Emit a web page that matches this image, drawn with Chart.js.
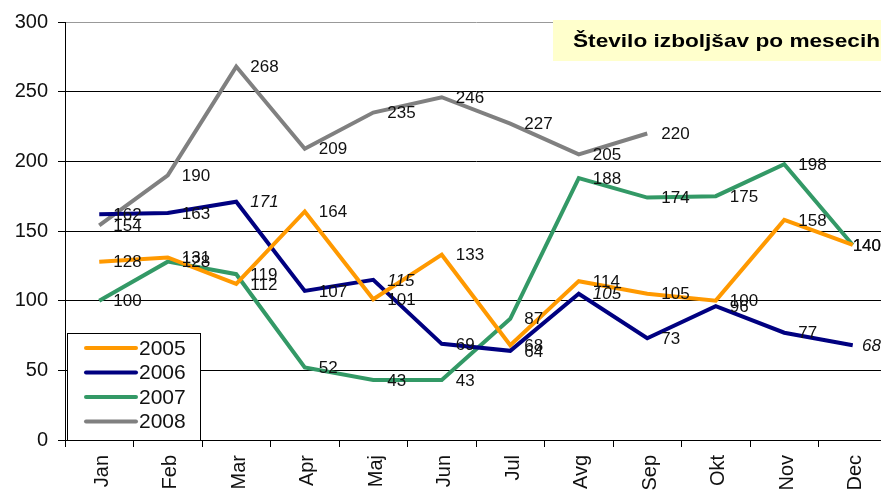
<!DOCTYPE html>
<html>
<head>
<meta charset="utf-8">
<script src="https://cdn.jsdelivr.net/npm/chart.js@4"></script>
<style>
  html, body { margin: 0; padding: 0; background: #fff; overflow: hidden; }
  #wrap { position: relative; width: 887px; height: 496px; }
</style>
</head>
<body>
<div id="wrap"><canvas id="chart"></canvas></div>
<script>
const months = ['Jan', 'Feb', 'Mar', 'Apr', 'Maj', 'Jun', 'Jul', 'Avg', 'Sep', 'Okt', 'Nov', 'Dec'];
const y2005 = [128, 131, 112, 164, 101, 133, 68, 114, 105, 100, 158, 140];
const y2006 = [162, 163, 171, 107, 115, 69, 64, 105, 73, 96, 77, 68];
const y2007 = [100, 128, 119, 52, 43, 43, 87, 188, 174, 175, 198, 140];
const y2008 = [154, 190, 268, 209, 235, 246, 227, 205, 220, null, null, null];
const yTicks = [0, 50, 100, 150, 200, 250, 300];
const title = 'Število izboljšav po mesecih';

// labels of 2006 that are shown in italics in the original
const italic2006 = [2, 4, 7, 11];

const FONT = '"Liberation Sans", Arial, sans-serif';

const labelPlugin = {
    id: 'pointLabels',
    afterDatasetsDraw(chart) {
        const ctx = chart.ctx;
        ctx.save();
        ctx.fillStyle = '#111';
        ctx.textAlign = 'left';
        ctx.textBaseline = 'middle';
        chart.data.datasets.forEach((ds, i) => {
            const meta = chart.getDatasetMeta(i);
            meta.data.forEach((pt, j) => {
                const v = ds.data[j];
                if (v === null) return;
                const it = (i === 1 && italic2006.includes(j)) ? 'italic ' : '';
                ctx.font = it + '17px ' + FONT;
                // keep the last labels inside the visible area
                const x = Math.min(pt.x + 14, 881 - ctx.measureText(String(v)).width);
                ctx.fillText(String(v), x, pt.y + 1);
            });
        });
        ctx.restore();
    }
};

const boxesPlugin = {
    id: 'boxes',
    afterDraw(chart) {
        const ctx = chart.ctx;
        ctx.save();
        // title box
        ctx.fillStyle = '#FFFFCC';
        ctx.fillRect(553, 20, 340, 41);
        ctx.fillStyle = '#000';
        ctx.font = 'bold 19px ' + FONT;
        ctx.textAlign = 'left';
        ctx.textBaseline = 'middle';
        const w = ctx.measureText(title).width;
        ctx.save();
        ctx.translate(573, 42);
        ctx.scale(307 / w, 1);
        ctx.fillText(title, 0, 0);
        ctx.restore();

        // legend
        ctx.fillStyle = '#fff';
        ctx.fillRect(67, 333, 133, 107);
        ctx.strokeStyle = '#000';
        ctx.lineWidth = 1;
        ctx.strokeRect(67.5, 333.5, 133, 107);
        ctx.font = '21px ' + FONT;
        chart.data.datasets.forEach((ds, i) => {
            const y = 348 + i * 24.5;
            ctx.strokeStyle = ds.borderColor;
            ctx.lineWidth = 4;
            ctx.lineCap = 'round';
            ctx.beginPath();
            ctx.moveTo(86, y);
            ctx.lineTo(136, y);
            ctx.stroke();
            ctx.fillStyle = '#111';
            ctx.fillText(ds.label, 139, y + 1);
        });
        ctx.restore();
    }
};

const line = (label, data, color) => ({
    label: label,
    data: data,
    borderColor: color,
    backgroundColor: color,
    borderWidth: 4,
    pointRadius: 0,
    tension: 0,
    spanGaps: false
});

new Chart(document.getElementById('chart'), {
    type: 'line',
    data: {
        labels: months,
        datasets: [
            line('2005', y2005, '#FF9900'),
            line('2006', y2006, '#000080'),
            line('2007', y2007, '#339966'),
            line('2008', y2008, '#808080')
        ]
    },
    options: {
        responsive: true,
        maintainAspectRatio: false,
        animation: false,
        layout: { padding: { top: 21, right: 0, left: 0, bottom: 0 } },
        plugins: {
            legend: { display: false },
            tooltip: { enabled: false }
        },
        scales: {
            x: {
                offset: true,
                afterFit: s => { s.height = 56; },
                grid: {
                    offset: true,
                    drawOnChartArea: false,
                    drawTicks: true,
                    tickLength: 7,
                    tickColor: '#000',
                    tickWidth: 1
                },
                border: { display: true, color: '#000', width: 1 },
                ticks: {
                    minRotation: 90,
                    maxRotation: 90,
                    padding: 8,
                    labelOffset: 3,
                    color: '#111',
                    font: { family: FONT, size: 20 }
                }
            },
            y: {
                min: 0,
                max: 300,
                afterFit: s => { s.width = 65; },
                afterBuildTicks: s => { s.ticks = yTicks.map(v => ({ value: v })); },
                grid: {
                    color: c => (c.tick && c.tick.value === 300) ? '#999' : '#000',
                    lineWidth: 1,
                    tickLength: 7,
                    tickColor: '#000'
                },
                border: { display: true, color: '#000', width: 1 },
                ticks: {
                    padding: 10,
                    color: '#111',
                    font: { family: FONT, size: 20 }
                }
            }
        }
    },
    plugins: [labelPlugin, boxesPlugin]
});
</script>
</body>
</html>
